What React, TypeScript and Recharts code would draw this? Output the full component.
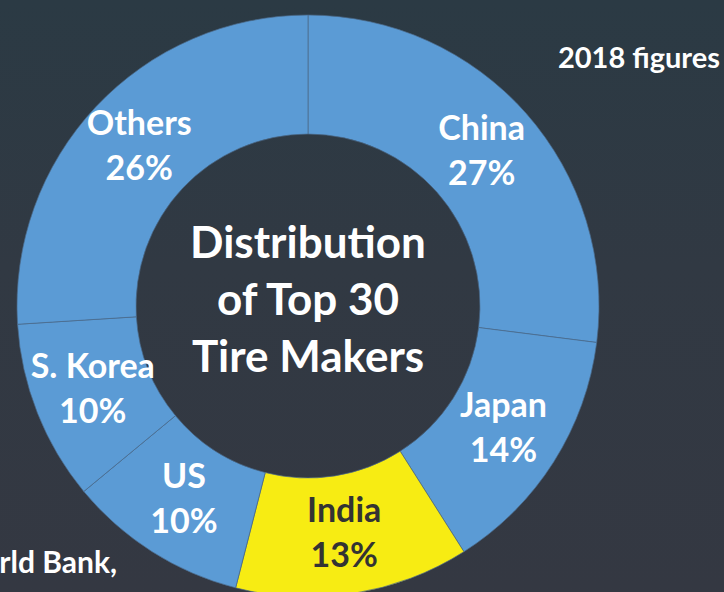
import { PieChart, Pie, Cell } from 'recharts';

const countries = ['China', 'Japan', 'India', 'US', 'S. Korea', 'Others'];
const shares = [27, 14, 13, 10, 10, 26];
const highlight = 'India';
const centerTitle = ['Distribution', 'of Top 30', 'Tire Makers'];

const data = countries.map((name, i) => ({ name, value: shares[i] }));

const BLUE = '#5B9BD5';
const YELLOW = '#F7EC13';
const FONT = 'Lato, "Open Sans", sans-serif';

const renderLabel = ({ cx, cy, midAngle, innerRadius, outerRadius, name, value }: any) => {
    const r = (innerRadius + outerRadius) / 2;
    const x = cx + r * Math.cos((-midAngle * Math.PI) / 180);
    const y = cy + r * Math.sin((-midAngle * Math.PI) / 180);
    const fill = name === highlight ? '#333333' : '#ffffff';
    return (
        <text x={x} y={y} fill={fill} textAnchor="middle" fontFamily={FONT} fontWeight={700} fontSize={34}>
            <tspan x={x} dy={-13}>{name}</tspan>
            <tspan x={x} dy={45}>{`${value}%`}</tspan>
        </text>
    );
};

export default function App() {
    return (
        <div
            style={{
                position: 'fixed',
                left: 0,
                top: 0,
                width: 724,
                height: 592,
                overflow: 'hidden',
                background: 'linear-gradient(180deg, #2b3a44 0%, #313943 45%, #343842 100%)',
            }}
        >
            <PieChart width={724} height={592}>
                <Pie
                    data={data}
                    dataKey="value"
                    nameKey="name"
                    cx={303}
                    cy={301}
                    innerRadius={172}
                    outerRadius={291}
                    startAngle={90}
                    endAngle={-270}
                    stroke="#4a6888"
                    strokeWidth={0.7}
                    labelLine={false}
                    label={renderLabel}
                    isAnimationActive={false}
                >
                    {data.map((d) => (
                        <Cell key={d.name} fill={d.name === highlight ? YELLOW : BLUE} />
                    ))}
                </Pie>
                {centerTitle.map((line, i) => (
                    <text
                        key={line}
                        x={308}
                        y={258 + i * 57}
                        textAnchor="middle"
                        fill="#ffffff"
                        fontFamily={FONT}
                        fontWeight={700}
                        fontSize={44}
                    >
                        {line}
                    </text>
                ))}
                <text x={720} y={68} textAnchor="end" fill="#ffffff" fontFamily={FONT} fontWeight={700} fontSize={29}>
                    2018 figures
                </text>
                <text x={117} y={573} textAnchor="end" fill="#ffffff" fontFamily={FONT} fontWeight={700} fontSize={30}>
                    rld Bank,
                </text>
            </PieChart>
        </div>
    );
}
